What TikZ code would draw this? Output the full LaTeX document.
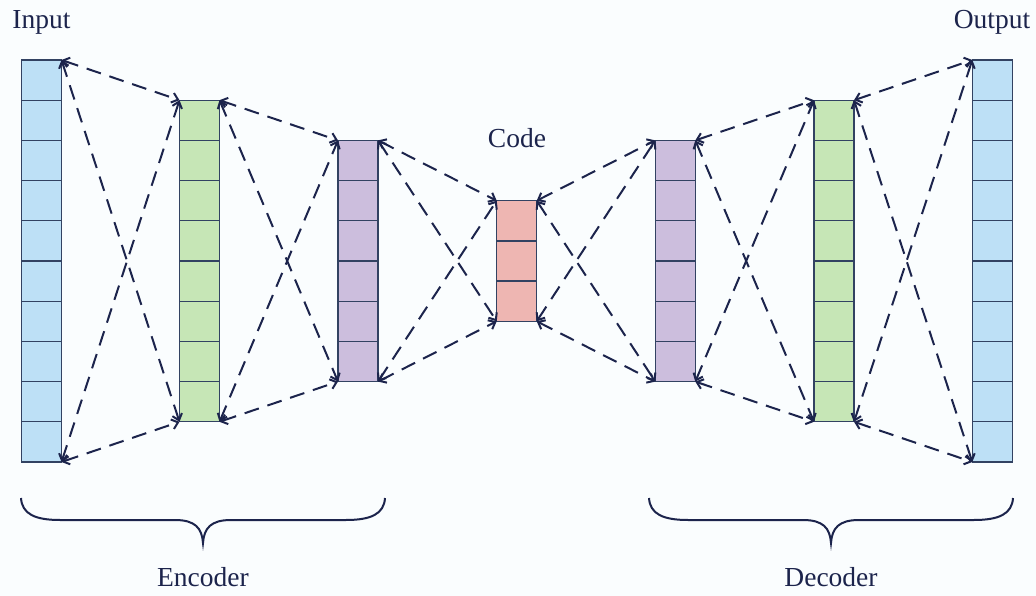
\documentclass[tikz,border=0pt]{standalone}
\usepackage{fontspec}
\setmainfont{Liberation Serif}
\usetikzlibrary{arrows.meta}
\definecolor{bg}{RGB}{250,253,254}
\definecolor{cblue}{RGB}{189,224,246}
\definecolor{cgreen}{RGB}{198,230,182}
\definecolor{cpurple}{RGB}{204,190,221}
\definecolor{cpink}{RGB}{238,182,178}
\definecolor{cborder}{RGB}{50,66,98}
\definecolor{navy}{RGB}{28,36,76}
\tikzset{
  layer/.style={draw=cborder, line width=1.3pt, minimum width=40pt, inner sep=0pt, outer sep=0pt, rectangle},
  cellline/.style={draw=cborder, line width=1.3pt},
  conn/.style={draw=navy, line width=2pt, dash pattern=on 15pt off 9pt,
    {Straight Barb[length=6pt,width=10pt]}-{Straight Barb[length=6pt,width=10pt]}},
  lbl/.style={text=navy, font=\fontsize{27.5}{32}\selectfont, anchor=base, inner sep=0pt},
  bracestyle/.style={draw=navy, line width=2pt}
}
\newcommand{\mylayer}[4]{%
  \node[layer, fill=#4, minimum height=#3*40.2pt] (#1) at (#2,261) {};
  \pgfmathtruncatemacro\lastcell{#3-1}
  \foreach \k in {1,...,\lastcell} {
    \draw[cellline] ([yshift=-\k*40.2pt]#1.north west) -- ([yshift=-\k*40.2pt]#1.north east);
  }
}
\newcommand{\mylink}[2]{%
  \draw[conn] (#1.north east) -- (#2.north west);
  \draw[conn] (#1.north east) -- (#2.south west);
  \draw[conn] (#1.south east) -- (#2.north west);
  \draw[conn] (#1.south east) -- (#2.south west);
}
\begin{document}
\begin{tikzpicture}[x=1pt,y=-1pt]
\fill[bg] (0,0) rectangle (1036,596);
\useasboundingbox (0,0) rectangle (1036,596);

\mylayer{in}{41.5}{10}{cblue}
\mylayer{e1}{199.5}{8}{cgreen}
\mylayer{e2}{358}{6}{cpurple}
\mylayer{code}{516.7}{3}{cpink}
\mylayer{d2}{675.3}{6}{cpurple}
\mylayer{d1}{834}{8}{cgreen}
\mylayer{out}{992.3}{10}{cblue}

\mylink{in}{e1}
\mylink{e1}{e2}
\mylink{e2}{code}
\mylink{code}{d2}
\mylink{d2}{d1}
\mylink{d1}{out}

\node[lbl] (tin) at (41.5,29) {Input};
\node[lbl] (tout) at (992,29) {Output};
\node[lbl] (tcode) at (517,148) {Code};
\node[lbl] (tenc) at (203,586) {Encoder};
\node[lbl] (tdec) at (831,586) {Decoder};

\draw[bracestyle] (21,498) .. controls (22,514) and (35,520) .. (60,520) -- (175,520)
  .. controls (195,520) and (202,528) .. (203,543)
  .. controls (204,528) and (211,520) .. (231,520) -- (346,520)
  .. controls (371,520) and (384,514) .. (385,498);
\draw[bracestyle] (649,498) .. controls (650,514) and (663,520) .. (688,520) -- (803,520)
  .. controls (823,520) and (830,528) .. (831,543)
  .. controls (832,528) and (839,520) .. (859,520) -- (974,520)
  .. controls (999,520) and (1012,514) .. (1013,498);
\end{tikzpicture}
\end{document}
